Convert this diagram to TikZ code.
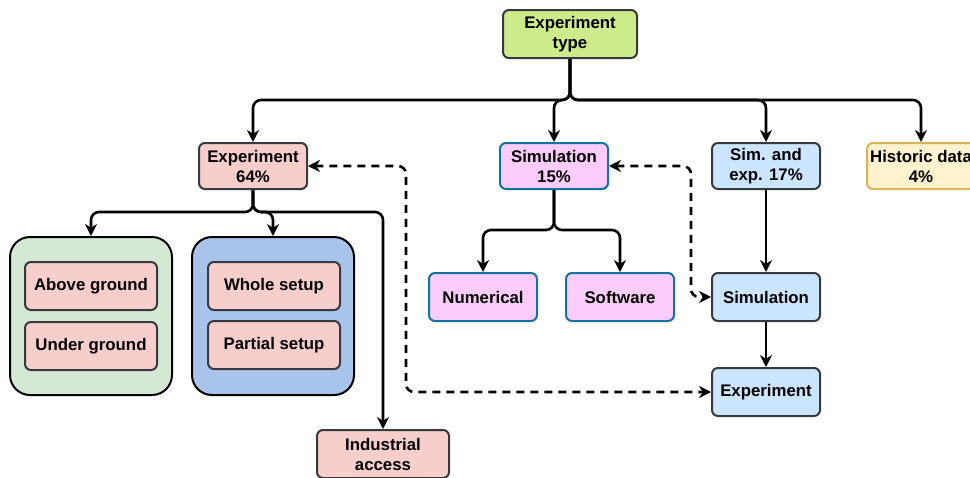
\documentclass[tikz,border=0pt]{standalone}
\usepackage{fontspec}
\setmainfont{Liberation Sans}
\usetikzlibrary{arrows.meta}

\definecolor{boxgray}{HTML}{36393D}
\definecolor{topgreen}{HTML}{CDEB8B}
\definecolor{exppink}{HTML}{F8CECC}
\definecolor{simpink}{HTML}{FBCCFA}
\definecolor{simborder}{HTML}{10739E}
\definecolor{bothblue}{HTML}{CCE5FF}
\definecolor{histyellow}{HTML}{FFF2CC}
\definecolor{histborder}{HTML}{D6B656}
\definecolor{groundgreen}{HTML}{D5E8D4}
\definecolor{setupblue}{HTML}{A9C4EB}

\begin{document}
\begin{tikzpicture}[%
		x=0.5pt,y=-0.5pt,
		font=\fontsize{8.4}{10}\selectfont\bfseries,
		box/.style={rounded corners=3pt,line width=1pt,minimum width=54pt,
			minimum height=23pt,align=center,inner sep=1pt},
		expbox/.style={box,draw=boxgray,fill=exppink},
		simbox/.style={box,draw=simborder,fill=simpink},
		bothbox/.style={box,draw=boxgray,fill=bothblue},
		inbox/.style={expbox,minimum width=66pt,minimum height=24pt},
		group/.style={draw=black,line width=1pt,rounded corners=10pt,
			minimum width=81pt,minimum height=79pt},
		conn/.style={-{Stealth[length=6pt,width=6pt]},line width=1.3pt,rounded corners=4pt},
		dconn/.style={conn,{Stealth[length=6pt,width=6pt]}-{Stealth[length=6pt,width=6pt]},
			dash pattern=on 4pt off 3pt}]
		\useasboundingbox (0,0) rectangle (970,477);
		% first level
		\node[box,draw=boxgray,fill=topgreen,minimum width=67pt,minimum height=24pt]
			(type)at(570,34){Experiment\\type};
		\node[expbox](exp)at(253,166){Experiment\\64\%};
		\node[simbox](sim)at(554,166){Simulation\\15\%};
		\node[bothbox](both)at(766,166){Sim. and\\exp. 17\%};
		\node[box,draw=histborder,fill=histyellow](hist)at(921,166){Historic data\\4\%};
		% experiment branch
		\node[group,fill=groundgreen](ground)at(91,316){};
		\node[group,fill=setupblue](setup)at(273,316){};
		\node[inbox](above)at(91,286){Above ground};
		\node[inbox](under)at(91,346){Under ground};
		\node[inbox](whole)at(274,286){Whole setup};
		\node[inbox](partial)at(274,345){Partial setup};
		\node[inbox](ind)at(383,454){Industrial\\access};
		% simulation branch
		\node[simbox,minimum height=24pt](num)at(483,297){Numerical};
		\node[simbox,minimum height=24pt](soft)at(620,297){Software};
		% sim. and exp. branch
		\node[bothbox,minimum height=24pt](simR)at(766,297){Simulation};
		\node[bothbox,minimum height=24pt](expR)at(766,392){Experiment};
		% connectors
		\coordinate(bus)at(570,100);
		\coordinate(expfork)at(253,212);
		\coordinate(simfork)at(554,230);
		\foreach \n in {exp,sim,both,hist}
			\draw[conn](type.south)--(bus)-|(\n.north);
		\foreach \n in {ground,setup,ind}
			\draw[conn](exp.south)--(expfork)-|(\n.north);
		\foreach \n in {num,soft}
			\draw[conn](sim.south)--(simfork)-|(\n.north);
		\draw[conn](both)--(simR);
		\draw[conn](simR)--(expR);
		\draw[dconn](exp.east)--++(98,0)|-(expR.west);
		\draw[dconn](sim.east)--++(82,0)|-(simR.west);
	\end{tikzpicture}
\end{document}
